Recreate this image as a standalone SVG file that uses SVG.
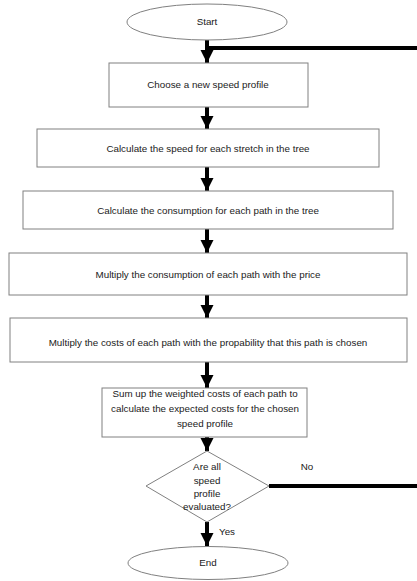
<svg xmlns="http://www.w3.org/2000/svg" width="417" height="581" viewBox="0 0 417 581">
<style>
.box{fill:#fff;stroke:#808080;stroke-width:1}
.t{font-family:"Liberation Sans",Arial,sans-serif;font-size:9.8px;fill:#1a1a1a;text-anchor:middle}
.c{stroke:#000;stroke-width:4;fill:none}
</style>
<defs>
<marker id="ah" markerUnits="userSpaceOnUse" markerWidth="13" markerHeight="14" refX="13" refY="6.5" orient="auto" viewBox="0 0 13 13">
<path d="M0,0 L13,6.5 L0,13 Z" fill="#000"/>
</marker>
</defs>
<rect width="417" height="581" fill="#fff"/>
<g id="connectors">
<line class="c" x1="207" y1="40" x2="207" y2="63" marker-end="url(#ah)"/>
<line class="c" x1="207" y1="107" x2="207" y2="129" marker-end="url(#ah)"/>
<line class="c" x1="207" y1="167" x2="207" y2="191" marker-end="url(#ah)"/>
<line class="c" x1="207" y1="229" x2="207" y2="253" marker-end="url(#ah)"/>
<line class="c" x1="207" y1="295" x2="207" y2="318" marker-end="url(#ah)"/>
<line class="c" x1="207" y1="362" x2="207" y2="388" marker-end="url(#ah)"/>
<line class="c" x1="207" y1="437" x2="207" y2="451" marker-end="url(#ah)"/>
<line class="c" x1="207" y1="522" x2="207" y2="546" marker-end="url(#ah)"/>
<path class="c" d="M269,486 H430 V48 H207"/>
<text class="t" x="307" y="470">No</text>
<text class="t" x="227" y="535">Yes</text>
</g>
<g id="start">
<ellipse class="box" cx="207" cy="22" rx="80" ry="18"/>
<text class="t" x="207" y="25">Start</text>
</g>
<g id="n1">
<rect class="box" x="109" y="63" width="199" height="44"/>
<text class="t" x="208" y="88">Choose a new speed profile</text>
</g>
<g id="n2">
<rect class="box" x="37" y="129" width="342" height="38"/>
<text class="t" x="208" y="152">Calculate the speed for each stretch in the tree</text>
</g>
<g id="n3">
<rect class="box" x="23" y="191" width="370" height="38"/>
<text class="t" x="208" y="214">Calculate the consumption  for each path in the tree</text>
</g>
<g id="n4">
<rect class="box" x="9" y="253" width="398" height="42"/>
<text class="t" x="208" y="278">Multiply the consumption  of each path with the price</text>
</g>
<g id="n5">
<rect class="box" x="10" y="318" width="397" height="44"/>
<text class="t" x="208" y="346">Multiply the costs of each path with the propability that this path is chosen</text>
</g>
<g id="n6">
<rect class="box" x="102" y="388" width="205" height="49"/>
<text class="t" x="205" y="397">Sum up the weighted costs of each path to</text>
<text class="t" x="205" y="412">calculate the expected costs for the chosen</text>
<text class="t" x="205" y="427">speed profile</text>
</g>
<g id="decision">
<polygon class="box" points="207,451 269,486 207,522 146,486"/>
<text class="t" x="207" y="470">Are all</text>
<text class="t" x="207" y="484">speed</text>
<text class="t" x="207" y="497">profile</text>
<text class="t" x="207" y="510">evaluated?</text>
</g>
<g id="end">
<ellipse class="box" cx="208" cy="563" rx="80" ry="16.5"/>
<text class="t" x="208" y="566">End</text>
</g>
</svg>
